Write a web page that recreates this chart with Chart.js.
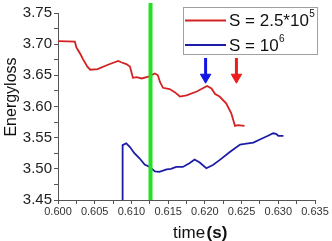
<!DOCTYPE html>
<html><head><meta charset="utf-8">
<script src="https://cdn.jsdelivr.net/npm/chart.js@4"></script>
<style>html,body{margin:0;padding:0;background:#fff}canvas{display:block}</style>
</head><body>
<canvas id="c" width="332" height="241"></canvas>
<script>
const redTime=[0.6000,0.6023,0.6025,0.6031,0.6034,0.6040,0.6044,0.6054,0.6068,0.6082,0.6086,0.6093,0.6098,0.6102,0.6107,0.6114,0.6123,0.6132,0.6136,0.6139,0.6143,0.6152,0.6159,0.6166,0.6175,0.6189,0.6203,0.6209,0.6214,0.6220,0.6229,0.6236,0.6241,0.6245,0.6254];
const redEnergy=[3.705,3.704,3.695,3.683,3.676,3.664,3.659,3.660,3.667,3.673,3.671,3.668,3.664,3.646,3.647,3.645,3.648,3.653,3.650,3.639,3.630,3.628,3.623,3.616,3.618,3.624,3.633,3.629,3.620,3.616,3.605,3.589,3.569,3.570,3.569];
const blueTime=[0.6088,0.6088,0.6093,0.6098,0.6104,0.6111,0.6118,0.6125,0.6132,0.6138,0.6148,0.6154,0.6161,0.6170,0.6179,0.6186,0.6193,0.6202,0.6211,0.6220,0.6234,0.6248,0.6254,0.6259,0.6266,0.6275,0.6286,0.6293,0.6297,0.6300,0.6307];
const blueEnergy=[3.45,3.538,3.541,3.535,3.525,3.517,3.507,3.503,3.496,3.495,3.499,3.500,3.503,3.503,3.509,3.515,3.510,3.501,3.506,3.514,3.527,3.539,3.540,3.541,3.542,3.547,3.553,3.557,3.556,3.553,3.553];
const greenTime=0.6126;
const greenEnergy=[3.45,3.766];
const blueArrowTime=0.6201;
const redArrowTime=0.6243;
const arrowEnergy=[3.678,3.647];
const seriesLabels=['S = 2.5*10','S = 10'];
const seriesExponents=['5','6'];
const xTickMin=0.600, xTickMax=0.635, xMajor=0.005, xMinor=0.0025;
const yTickMin=3.45, yTickMax=3.75, yMajor=0.05, yMinor=0.025;
const xTitle='time', xTitleUnit='(s)', yTitle='Energyloss';

const FONT="'Liberation Sans', Arial, sans-serif";
const RED='#d42222', BLUE='#1c1ca8', GREEN='#22e022';
const pts=(xs,ys)=>xs.map((x,i)=>({x:x,y:ys[i]}));
const vline=(x,ys)=>ys.map(y=>({x:x,y:y}));

const overlay={
  id:'overlay',
  afterDraw(chart){
    const ctx=chart.ctx;
    ctx.save();
    // legend box
    ctx.fillStyle='#fff';
    ctx.fillRect(183.5,7.5,134,47);
    ctx.strokeStyle='#a0a0a0';ctx.lineWidth=1;
    ctx.strokeRect(183.5,7.5,134,47);
    const rows=[[RED,20.5],[BLUE,45]];
    rows.forEach((r,i)=>{
      ctx.strokeStyle=r[0];ctx.lineWidth=1.8;
      ctx.beginPath();ctx.moveTo(185,r[1]);ctx.lineTo(226,r[1]);ctx.stroke();
      ctx.fillStyle='#111';
      ctx.font='17px '+FONT;ctx.textBaseline='middle';ctx.textAlign='left';
      ctx.fillText(seriesLabels[i],229,r[1]+1);
      const w=ctx.measureText(seriesLabels[i]).width;
      ctx.font='10px '+FONT;
      ctx.fillText(seriesExponents[i],229+w+0.5,r[1]-6);
    });
    // x title
    ctx.fillStyle='#111';ctx.textBaseline='alphabetic';ctx.textAlign='left';
    ctx.font='17px '+FONT;
    const tw=ctx.measureText(xTitle).width;
    ctx.fillText(xTitle,173,238);
    ctx.font='bold 17px '+FONT;
    ctx.fillText(xTitleUnit,173+tw+1.5,238);
    // y title
    ctx.translate(16,97);ctx.rotate(-Math.PI/2);
    ctx.font='16px '+FONT;ctx.textAlign='center';ctx.textBaseline='alphabetic';
    ctx.fillText(yTitle,0,0);
    ctx.restore();
  }
};

new Chart(document.getElementById('c'),{
  type:'line',
  data:{datasets:[
    {data:vline(greenTime,greenEnergy),borderColor:GREEN,borderWidth:4,pointRadius:0,clip:false,order:0},
    {data:pts(redTime,redEnergy),borderColor:RED,borderWidth:1.8,pointRadius:0,order:2},
    {data:pts(blueTime,blueEnergy),borderColor:BLUE,borderWidth:1.8,pointRadius:0,order:2},
    {data:vline(blueArrowTime,arrowEnergy),borderColor:'#1414e6',backgroundColor:'#1414e6',borderWidth:3,
      pointRadius:[0,6],pointStyle:'triangle',rotation:180,pointBorderWidth:1,pointBackgroundColor:'#1414e6',clip:false,order:1},
    {data:vline(redArrowTime,arrowEnergy),borderColor:'#ee1c1c',backgroundColor:'#ee1c1c',borderWidth:3,
      pointRadius:[0,6],pointStyle:'triangle',rotation:180,pointBorderWidth:1,pointBackgroundColor:'#ee1c1c',clip:false,order:1}
  ]},
  options:{
    responsive:false,animation:false,
    layout:{padding:{left:0,top:13,right:17,bottom:0}},
    plugins:{legend:{display:false},tooltip:{enabled:false}},
    scales:{
      x:{type:'linear',min:xTickMin,max:xTickMax,
        afterFit(s){s.height=41;},
        ticks:{stepSize:xMinor,autoSkip:false,maxRotation:0,padding:1,color:'#333',font:{family:FONT,size:11},
          callback:(v)=>Math.round(v*10000)%Math.round(xMajor*10000)===0?v.toFixed(3):''},
        grid:{drawOnChartArea:false,tickLength:4,color:'#555'},
        border:{color:'#555',width:1}},
      y:{type:'linear',min:yTickMin,max:yTickMax,
        afterFit(s){s.width=58;},
        ticks:{stepSize:yMinor,autoSkip:false,padding:2,color:'#222',font:{family:FONT,size:15},
          callback:(v)=>Math.round(v*1000)%Math.round(yMajor*1000)===0?v.toFixed(2):''},
        grid:{drawOnChartArea:false,tickLength:4,color:'#555'},
        border:{color:'#555',width:1}}
    }
  },
  plugins:[overlay]
});
</script>
</body></html>
